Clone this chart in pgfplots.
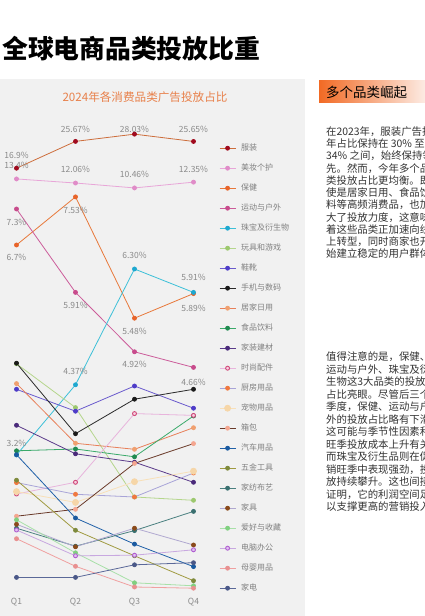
\documentclass[border=0pt]{standalone}
\usepackage{fontspec}
\setmainfont{Noto Sans CJK SC}
\usepackage{pgfplots}
\pgfplotsset{compat=1.18}
\usetikzlibrary{shadings}

\definecolor{panelgray}{HTML}{F1F1F1}
\definecolor{subor}{HTML}{E8804A}
\definecolor{boxor}{HTML}{F26A24}
\definecolor{boxlight}{HTML}{FDF1EC}
\definecolor{bodytext}{HTML}{333333}
\definecolor{lblgray}{HTML}{8A8A8A}
\definecolor{leggray}{HTML}{808080}

\definecolor{cAl}{HTML}{CD6E3C}\definecolor{cAm}{HTML}{A00A1E}
\definecolor{cBl}{HTML}{E8A6D8}\definecolor{cBm}{HTML}{E08CC8}
\definecolor{cCl}{HTML}{E8783A}\definecolor{cCm}{HTML}{E8642A}
\definecolor{cDl}{HTML}{CC5C9A}\definecolor{cDm}{HTML}{C84B8C}
\definecolor{cEl}{HTML}{3CC0D8}\definecolor{cEm}{HTML}{1EA8D0}
\definecolor{cFl}{HTML}{B5D68C}\definecolor{cFm}{HTML}{9CC86E}
\definecolor{cGl}{HTML}{6A5ACD}\definecolor{cGm}{HTML}{4E3CC8}
\definecolor{cHl}{HTML}{2A2A2A}\definecolor{cHm}{HTML}{1A1A1A}
\definecolor{cIl}{HTML}{E8805A}\definecolor{cIm}{HTML}{F0A070}
\definecolor{cJl}{HTML}{3AAA6A}\definecolor{cJm}{HTML}{208A50}
\definecolor{cKl}{HTML}{5A3A8A}\definecolor{cKm}{HTML}{4A2A7A}
\definecolor{cLl}{HTML}{E8B4DC}\definecolor{cLm}{HTML}{D04A7A}\definecolor{cLf}{HTML}{F6D0E0}
\definecolor{cMl}{HTML}{A8A4D8}\definecolor{cMm}{HTML}{F07840}
\definecolor{cNl}{HTML}{F8E0B8}\definecolor{cNm}{HTML}{F6D6A8}
\definecolor{cOl}{HTML}{6A3A2A}\definecolor{cOm}{HTML}{F4A690}
\definecolor{cPl}{HTML}{2060A8}\definecolor{cPm}{HTML}{1A5AA0}
\definecolor{cQl}{HTML}{A09A40}\definecolor{cQm}{HTML}{7E8A3C}
\definecolor{cRl}{HTML}{4A8080}\definecolor{cRm}{HTML}{3A7070}
\definecolor{cSl}{HTML}{B0A8D0}\definecolor{cSm}{HTML}{8A4A1A}
\definecolor{cTl}{HTML}{A8E0A8}\definecolor{cTm}{HTML}{80D080}
\definecolor{cUl}{HTML}{C8A8E0}\definecolor{cUm}{HTML}{B060D0}\definecolor{cUf}{HTML}{E0C0F0}
\definecolor{cVl}{HTML}{F0A0A0}\definecolor{cVm}{HTML}{E89090}
\definecolor{cWl}{HTML}{5A6898}\definecolor{cWm}{HTML}{4A5888}

\begin{document}
\begin{tikzpicture}
\path[use as bounding box] (0,0) rectangle (425pt,616pt);
\fill[white] (0,0) rectangle (425pt,616pt);
\fill[panelgray] (0,0) rectangle (305pt,537pt);
\node[anchor=west, font=\fontsize{25.8}{28}\selectfont\bfseries, inner sep=0pt] at (2pt,567pt) {全球电商品类投放比重};
\node[font=\fontsize{11.6}{13}\selectfont, text=subor, inner sep=0pt] at (145pt,519pt) {2024年各消费品类广告投放占比};
\shade[left color=boxor, right color=boxlight] (319pt,513pt) rectangle (430pt,535.3pt);
\node[anchor=west, font=\fontsize{13.5}{15}\selectfont, inner sep=0pt] at (326pt,524pt) {多个品类崛起};

\foreach \t [count=\i from 0] in {在2023年，服装广告投放,年占比保持在 30\% 至,34\% 之间，始终保持领,先。然而，今年多个品,类投放占比更均衡。即,使是居家日用、食品饮,料等高频消费品，也加,大了投放力度，这意味,着这些品类正加速向线,上转型，同时商家也开,始建立稳定的用户群体。}
  {\node[anchor=west, inner sep=0pt, font=\fontsize{10.4}{12}\selectfont, text=bodytext] at (326pt,{484.3pt-12.23pt*\i}) {\t};}
\foreach \t [count=\i from 0] in {值得注意的是，保健、,运动与户外、珠宝及衍,生物这3大品类的投放,占比亮眼。尽管后三个,季度，保健、运动与户,外的投放占比略有下滑，,这可能与季节性因素和,旺季投放成本上升有关，,而珠宝及衍生品则在促,销旺季中表现强劲，投,放持续攀升。这也间接,证明，它的利润空间足,以支撑更高的营销投入。}
  {\node[anchor=west, inner sep=0pt, font=\fontsize{10.4}{12}\selectfont, text=bodytext] at (326pt,{259.3pt-12.5pt*\i}) {\t};}

\begin{axis}[
  at={(16.5pt,21pt)}, anchor=south west,
  scale only axis, width=177pt, height=475pt,
  xmin=0, xmax=3, ymin=0.8667, ymax=32.663,
  y coord trafo/.code={\pgfmathparse{(#1>7.5)?(7.5+(#1-7.5)*0.051):(#1)}},
  clip=false,
  axis line style={draw=none},
  major tick length=0pt,
  ytick=\empty,
  xtick={0,1,2,3}, xticklabels={Q1,Q2,Q3,Q4},
  xticklabel style={font=\fontsize{8.5}{10}\selectfont, text=lblgray},
  every axis plot/.append style={line width=0.8pt, mark=*, mark size=2pt},
  legend style={at={(1,1)}, anchor=north west, xshift=25.5pt, yshift=-23.5pt,
    draw=none, fill=none, inner sep=0pt, font=\fontsize{8}{9}\selectfont, text=leggray,
    row sep=11pt, column sep=4pt, nodes={inner sep=1pt, text height=6pt, text depth=1pt}},
  legend cell align=left,
  legend image code/.code={\draw[mark repeat=2,mark phase=2,#1] plot coordinates {(0pt,0pt) (8pt,0pt) (16pt,0pt)};},
]
\addplot[cAl, mark options={fill=cAm, draw=cAm}] coordinates {(0,16.9) (1,25.67) (2,28.03) (3,25.65)};
\addlegendentry{服装}
\addplot[cBl, mark options={fill=cBm, draw=cBm}] coordinates {(0,13.4) (1,12.06) (2,10.46) (3,12.35)};
\addlegendentry{美妆个护}
\addplot[cCl, mark options={fill=cCm, draw=cCm}] coordinates {(0,6.7) (1,7.53) (2,5.48) (3,5.89)};
\addlegendentry{保健}
\addplot[cDl, mark options={fill=cDm, draw=cDm}] coordinates {(0,7.3) (1,5.91) (2,4.92) (3,4.66)};
\addlegendentry{运动与户外}
\addplot[cEl, mark options={fill=cEm, draw=cEm}] coordinates {(0,3.2) (1,4.37) (2,6.30) (3,5.91)};
\addlegendentry{珠宝及衍生物}
\addplot[cFl, mark options={fill=cFm, draw=cFm}] coordinates {(0,4.72) (1,3.99) (2,2.50) (3,2.445)};
\addlegendentry{玩具和游戏}
\addplot[cGl, mark options={fill=cGm, draw=cGm}] coordinates {(0,4.295) (1,3.93) (2,4.35) (3,3.98)};
\addlegendentry{鞋靴}
\addplot[cHl, mark options={fill=cHm, draw=cHm}] coordinates {(0,4.73) (1,3.555) (2,4.13) (3,4.295)};
\addlegendentry{手机与数码}
\addplot[cIl, mark options={fill=cIm, draw=cIm}] coordinates {(0,4.39) (1,3.395) (2,3.295) (3,3.655)};
\addlegendentry{居家日用}
\addplot[cJl, mark options={fill=cJm, draw=cJm}] coordinates {(0,3.27) (1,3.30) (2,3.17) (3,3.85)};
\addlegendentry{食品饮料}
\addplot[cKl, mark options={fill=cKm, draw=cKm}] coordinates {(0,3.695) (1,3.22) (2,3.08) (3,2.745)};
\addlegendentry{家装建材}
\addplot[cLl, mark options={fill=cLf, draw=cLm, line width=0.9pt}] coordinates {(0,2.55) (1,2.745) (2,3.89) (3,3.86)};
\addlegendentry{时尚配件}
\addplot[cMl, mark options={fill=cMm, draw=cMm}] coordinates {(0,2.74) (1,2.545) (2,2.50) (3,2.90)};
\addlegendentry{厨房用品}
\addplot[cNl, mark size=3pt, mark options={fill=cNm, draw=cNm}] coordinates {(0,2.59) (1,2.41) (2,2.755) (3,2.93)};
\addlegendentry{宠物用品}
\addplot[cOl, mark options={fill=cOm, draw=cOm}] coordinates {(0,2.18) (1,2.295) (2,3.06) (3,3.39)};
\addlegendentry{箱包}
\addplot[cPl, mark options={fill=cPm, draw=cPm}] coordinates {(0,3.205) (1,2.15) (2,1.715) (3,1.34)};
\addlegendentry{汽车用品}
\addplot[cQl, mark options={fill=cQm, draw=cQm}] coordinates {(0,2.78) (1,1.945) (2,1.52) (3,1.105)};
\addlegendentry{五金工具}
\addplot[cRl, mark options={fill=cRm, draw=cRm}] coordinates {(0,1.98) (1,1.68) (2,1.94) (3,2.26)};
\addlegendentry{家纺布艺}
\addplot[cSl, mark options={fill=cSm, draw=cSm}] coordinates {(0,2.045) (1,1.67) (2,1.98) (3,1.70)};
\addlegendentry{家具}
\addplot[cTl, mark options={fill=cTm, draw=cTm}] coordinates {(0,2.12) (1,1.57) (2,1.07) (3,1.02)};
\addlegendentry{爱好与收藏}
\addplot[cUl, mark options={fill=cUf, draw=cUm, line width=0.9pt}] coordinates {(0,1.95) (1,1.52) (2,1.53) (3,1.62)};
\addlegendentry{电脑办公}
\addplot[cVl, mark options={fill=cVm, draw=cVm}] coordinates {(0,1.805) (1,1.345) (2,1.00) (3,0.98)};
\addlegendentry{母婴用品}
\addplot[cWl, mark options={fill=cWm, draw=cWm}] coordinates {(0,1.16) (1,1.16) (2,1.37) (3,1.405)};
\addlegendentry{家电}

\tikzset{lbl/.style={font=\fontsize{8.5}{10}\selectfont, text=lblgray, inner sep=0pt}}
\node[lbl, yshift=13pt] at (axis cs:0,16.9) {16.9\%};
\node[lbl, yshift=14pt] at (axis cs:0,13.4) {13.4\%};
\node[lbl, yshift=11.7pt] at (axis cs:1,25.67) {25.67\%};
\node[lbl, yshift=4.3pt] at (axis cs:2,28.03) {28.03\%};
\node[lbl, yshift=11.7pt] at (axis cs:3,25.65) {25.65\%};
\node[lbl, yshift=13.3pt] at (axis cs:1,12.06) {12.06\%};
\node[lbl, yshift=14pt] at (axis cs:2,10.46) {10.46\%};
\node[lbl, yshift=13pt] at (axis cs:3,12.35) {12.35\%};
\node[lbl, yshift=-13pt] at (axis cs:1,7.53) {7.53\%};
\node[lbl, yshift=-13pt] at (axis cs:0,7.3) {7.3\%};
\node[lbl, yshift=-12.7pt] at (axis cs:0,6.7) {6.7\%};
\node[lbl, yshift=13.3pt] at (axis cs:2,6.30) {6.30\%};
\node[lbl, yshift=15pt] at (axis cs:3,5.91) {5.91\%};
\node[lbl, yshift=-14.3pt] at (axis cs:3,5.89) {5.89\%};
\node[lbl, yshift=-12.7pt] at (axis cs:1,5.91) {5.91\%};
\node[lbl, yshift=-13.3pt] at (axis cs:2,5.48) {5.48\%};
\node[lbl, yshift=-12.7pt] at (axis cs:2,4.92) {4.92\%};
\node[lbl, yshift=-14.7pt] at (axis cs:3,4.66) {4.66\%};
\node[lbl, yshift=13.7pt] at (axis cs:1,4.37) {4.37\%};
\node[lbl, yshift=12pt] at (axis cs:0,3.2) {3.2\%};
\end{axis}
\end{tikzpicture}
\end{document}
